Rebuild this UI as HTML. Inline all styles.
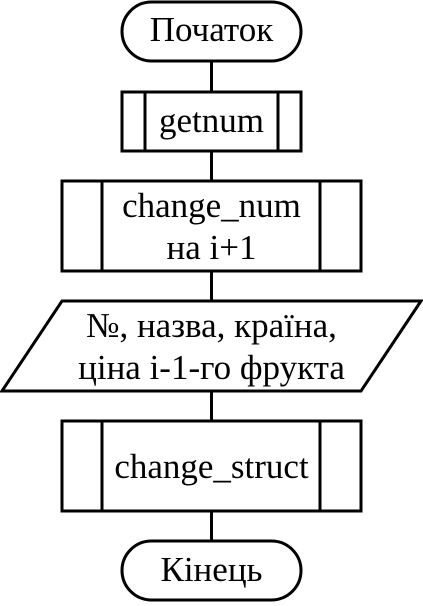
<!DOCTYPE html>
<html><head><meta charset="utf-8"><style>
html,body{margin:0;padding:0;background:#fff;}
svg{display:block;}
text{font-family:"Liberation Serif","DejaVu Serif",serif;font-size:35px;fill:#000;text-anchor:middle;}
</style></head><body>
<svg width="423" height="606" viewBox="0 0 423 606" xmlns="http://www.w3.org/2000/svg">
<g fill="none" stroke="#000" stroke-width="3">
<line x1="211.5" y1="61" x2="211.5" y2="92"/>
<line x1="211.5" y1="151" x2="211.5" y2="181"/>
<line x1="211.5" y1="271" x2="211.5" y2="301"/>
<line x1="211.5" y1="391" x2="211.5" y2="421"/>
<line x1="211.5" y1="511" x2="211.5" y2="541"/>
<rect x="122" y="2" width="179" height="59" rx="29.5" ry="29.5"/>
<rect x="122" y="92" width="179" height="59"/>
<line x1="145" y1="92" x2="145" y2="151"/>
<line x1="278" y1="92" x2="278" y2="151"/>
<rect x="62" y="181" width="299" height="90"/>
<line x1="102" y1="181" x2="102" y2="271"/>
<line x1="320" y1="181" x2="320" y2="271"/>
<polygon points="62,301 421,301 361,391 2,391"/>
<rect x="62" y="421" width="299" height="90"/>
<line x1="102" y1="421" x2="102" y2="511"/>
<line x1="320" y1="421" x2="320" y2="511"/>
<rect x="122" y="541" width="179" height="59" rx="29.5" ry="29.5"/>
</g>
<text x="211.5" y="41">Початок</text>
<text x="211.5" y="132">getnum</text>
<text x="211.5" y="217">change_num</text>
<text x="211.5" y="259">на i+1</text>
<text x="211.5" y="337">№, назва, країна,</text>
<text x="211.5" y="379">ціна i-1-го фрукта</text>
<text x="211.5" y="478">change_struct</text>
<text x="211.5" y="581">Кінець</text>
</svg>
</body></html>
